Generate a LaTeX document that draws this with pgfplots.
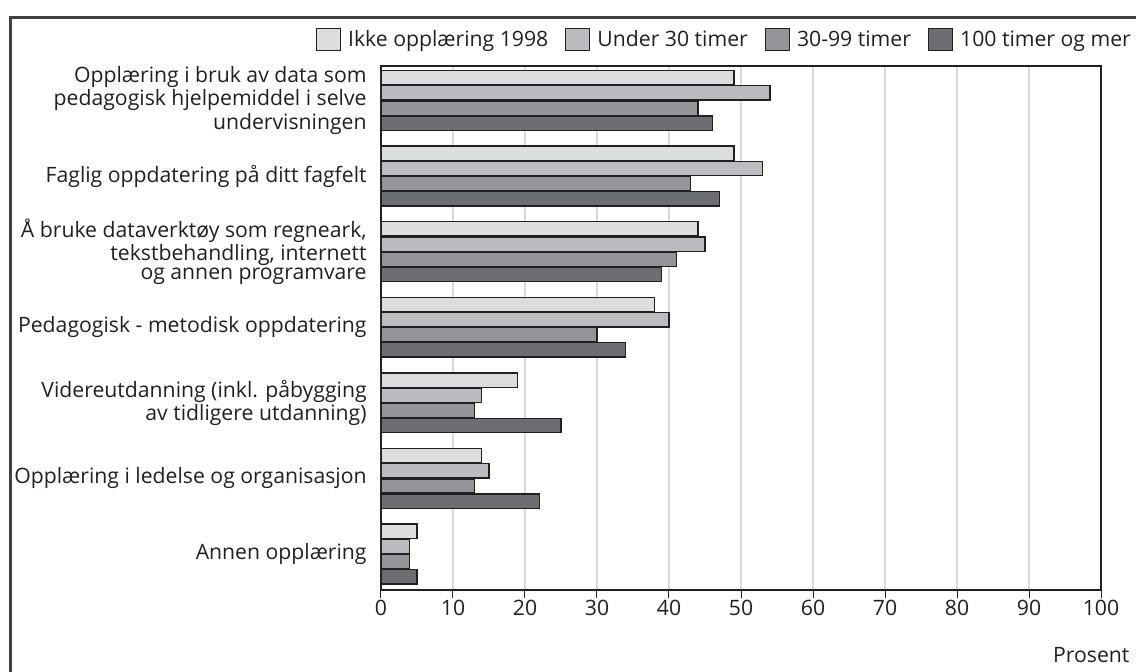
\documentclass[border=0pt]{standalone}
\usepackage{fontspec}
\setmainfont{Open Sans}
\usepackage{pgfplots}
\usepackage{pgfplotstable}
\pgfplotsset{compat=1.18}

\definecolor{ink}{HTML}{231F20}
\definecolor{cA}{HTML}{DCDDDE}
\definecolor{cB}{HTML}{BBBCBF}
\definecolor{cC}{HTML}{939598}
\definecolor{cD}{HTML}{6D6E71}
\definecolor{gridc}{HTML}{D9D9D9}

% y = group position (6 = top), then the four series
\pgfplotstableread{
y  ikke under mellom over
6  49   54    44     46
5  49   53    43     47
4  44   45    41     39
3  38   40    30     34
2  19   14    13     25
1  14   15    13     22
0  5    4     4      5
}\datatab

\begin{document}
\begin{tikzpicture}[font=\fontsize{10.6pt}{9.3pt}\selectfont, text=ink]
\begin{axis}[
  at={(190.5pt,40.5pt)}, anchor=south west,
  scale only axis, width=360pt, height=262pt,
  xbar, bar width=0.19,
  xmin=0, xmax=100, ymin=-0.476, ymax=6.456,
  xtick={0,10,...,100},
  ytick={0,1,2,3,4,5,6},
  yticklabels={Annen opplæring,
    Opplæring i ledelse og organisasjon,
    {Videreutdanning (inkl. påbygging\\av tidligere utdanning)},
    Pedagogisk - metodisk oppdatering,
    {Å bruke dataverktøy som regneark,\\tekstbehandling, internett\\og annen programvare},
    Faglig oppdatering på ditt fagfelt,
    {Opplæring i bruk av data som\\pedagogisk hjelpemiddel i selve\\undervisningen}},
  yticklabel style={align=right, inner sep=0pt, xshift=-3pt},
  y tick style={draw=none},
  major y tick style={draw=none},
  x tick style={ink, line width=0.5pt},
  tick align=outside, major tick length=4pt,
  xtick pos=bottom,
  xticklabel style={inner sep=1pt, yshift=0pt},
  /pgf/number format/assume math mode=true,
  xmajorgrids, grid style={gridc, line width=0.6pt},
  axis line style={ink, line width=0.6pt},
  xlabel={Prosent},
  xlabel style={at={(axis description cs:1.04,-0.124)}, anchor=east, inner sep=0pt},
  legend columns=4,
  legend style={at={(axis description cs:1.042,1.05)}, anchor=east,
    draw=none, fill=none, inner sep=0pt,
    /tikz/every odd column/.style={column sep=3.5pt},
    /tikz/every even column/.style={column sep=8.5pt},
    nodes={inner sep=0pt}},
  legend image code/.code={\draw[#1, draw=ink, line width=0.6pt] (0pt,-5.5pt) rectangle (12pt,5.5pt);},
  every axis plot/.append style={draw=ink, line width=0.7pt},
]
\addplot[fill=cA, bar shift=0.3]  table[x=ikke, y=y] {\datatab};
\addplot[fill=cB, bar shift=0.1]  table[x=under, y=y] {\datatab};
\addplot[fill=cC, bar shift=-0.1] table[x=mellom, y=y] {\datatab};
\addplot[fill=cD, bar shift=-0.3] table[x=over, y=y] {\datatab};
\legend{Ikke opplæring 1998, Under 30 timer, 30-99 timer, 100 timer og mer}
\end{axis}
\draw[ink!85, line width=1.5pt] (5pt,-20pt) rectangle (620pt,326.5pt);
\pgfresetboundingbox
\path[use as bounding box] (0,0) rectangle (568pt,335.5pt);
\end{tikzpicture}
\end{document}
